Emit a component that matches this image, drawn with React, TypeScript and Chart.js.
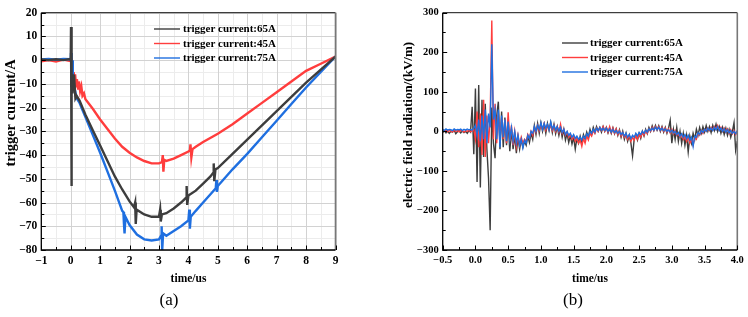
import { useEffect, useRef } from 'react';
import { Chart, registerables } from 'chart.js';

Chart.register(...registerables);

const SERIF = "'Liberation Serif', 'Times New Roman', serif";

const LABEL_65 = 'trigger current:65A';
const LABEL_45 = 'trigger current:45A';
const LABEL_75 = 'trigger current:75A';

const COLOR_65 = '#3d3d3d';
const COLOR_45 = '#ff3d3d';
const COLOR_75 = '#1f6fe0';

// (a) trigger current, [time µs, current A]
const current65A: [number, number][] = [
  [-1, 0.3], [-0.75, 0], [-0.5, 0.4], [-0.25, 0], [-0.02, 0.5], [0, 0], [0.01, 14], [0.02, -53],
  [0.03, 2], [0.04, -8], [0.06, -14], [0.08, -6], [0.1, -12], [0.13, -10], [0.16, -16], [0.2, -15],
  [0.3, -17], [0.4, -20], [0.5, -23], [0.75, -29.5], [1, -36], [1.25, -42.5], [1.5, -49], [1.75, -54.5],
  [2, -59.5], [2.15, -62], [2.19, -60], [2.21, -69], [2.24, -63], [2.5, -65], [2.75, -66], [3, -66],
  [3.04, -63], [3.06, -68], [3.1, -65], [3.25, -64.5], [3.5, -62.5], [3.75, -60], [3.92, -58], [3.94, -53],
  [3.96, -61], [4, -57], [4.25, -55], [4.5, -52], [4.75, -49], [4.84, -47.5], [4.86, -43.5], [4.88, -51],
  [4.92, -46], [5, -45.5], [5.5, -39.5], [6, -33.5], [6.5, -27.5], [7, -21.5], [7.5, -15.5], [8, -9.5],
  [8.5, -4], [9, 1.5],
];

const current45A: [number, number][] = [
  [-1, -0.5], [-0.75, 0], [-0.5, -0.6], [-0.25, 0.2], [-0.02, -0.3], [0.02, 0], [0.04, -4], [0.06, -2],
  [0.08, -7], [0.1, -5], [0.13, -10], [0.15, -6], [0.18, -11], [0.21, -8], [0.25, -12], [0.28, -9],
  [0.32, -13], [0.36, -11], [0.4, -15], [0.45, -14], [0.5, -16.5], [0.75, -20.5], [1, -25], [1.25, -29],
  [1.5, -33], [1.75, -36.5], [2, -39], [2.25, -41], [2.5, -42.5], [2.75, -43.5], [3, -43.5], [3.1, -43],
  [3.13, -40], [3.15, -47], [3.18, -42], [3.25, -42.5], [3.5, -41.5], [3.75, -40], [4, -38.5], [4.05, -38],
  [4.07, -35.5], [4.1, -41], [4.14, -37.5], [4.25, -36.5], [4.5, -34.5], [5, -31], [5.5, -27], [6, -22.5],
  [6.5, -18], [7, -13.5], [7.5, -9], [8, -4.5], [8.5, -1.5], [9, 1.5],
];

const current75A: [number, number][] = [
  [-1, 0.3], [-0.75, 0.5], [-0.5, 0.2], [-0.25, 0.5], [-0.02, 0.4], [0, 0], [0.01, 3], [0.03, -8],
  [0.05, 0], [0.07, -10], [0.1, -12], [0.15, -13], [0.2, -16], [0.3, -18], [0.4, -21], [0.5, -24],
  [0.75, -31.5], [1, -39], [1.25, -47], [1.5, -55], [1.75, -63.5], [1.79, -64], [1.81, -69], [1.83, -73],
  [1.86, -66], [2, -69.5], [2.25, -73.5], [2.5, -75.5], [2.75, -76], [3, -75.5], [3.07, -74], [3.09, -70],
  [3.11, -80], [3.14, -73], [3.25, -74], [3.5, -72], [3.75, -70], [4, -67.5], [4.03, -63], [4.05, -71],
  [4.08, -66], [4.25, -63.5], [4.5, -60], [4.75, -56.5], [4.93, -54], [4.95, -50.5], [4.97, -55.5], [5, -53],
  [5.5, -46], [6, -39.5], [6.5, -32.5], [7, -25.5], [7.5, -18.5], [8, -11.5], [8.5, -5], [9, 1.5],
];

// (b) electric field radiation (kV/m), sampled every 0.025 µs from -0.5 µs
const FIELD_T0 = -0.5;
const FIELD_DT = 0.025;

const field65A = [
  -3, 2, -4, 1, -5, 0, -2, 3, -6, -1,
  2, -4, 1, -3, 0, -5, 2, -2, 62, -58,
  108, -128, 117, -142, 80, -65, 70, -45, -118, -250,
  60, -30, -68, 40, 75, -45, 50, -40, 35, -35,
  20, -50, 5, -45, -10, -55, -15, -45, -20, -40,
  -25, -35, -12, -28, -5, -20, 15, -8, 20, -5,
  22, 0, 18, -5, 20, 2, 22, -3, 18, -6,
  12, -10, 10, -15, 5, -22, -5, -28, -10, -32,
  -15, -45, -18, -30, -12, -28, -8, -20, -2, -15,
  5, -8, 10, -3, 12, 0, 10, -2, 12, 0,
  10, -4, 8, -5, 9, -6, 6, -10, 4, -15,
  0, -20, -5, -25, -10, -30, -62, -20, -8, -22,
  -5, -18, 0, -12, 5, -6, 10, 0, 14, 2,
  15, 3, 14, 0, 12, -2, 10, -5, 8, 28,
  -30, 5, -20, 10, -25, 0, -30, -5, -35, -10,
  -52, -12, -30, -5, -20, 5, -10, 10, -5, 12,
  -2, 15, 0, 12, -3, 15, 2, 18, 0, 12,
  -5, 10, -8, 8, -10, 5, -15, 0, 22, -48,
  -25,
];

const field45A = [
  2, 0, 3, -1, 2, 1, -2, 3, 0, 2,
  -1, 3, 1, -2, 2, 0, 3, -1, 2, 5,
  -20, 50, -40, 45, -60, 80, -65, 40, -30, 35,
  280, -20, 70, -30, 45, -25, 35, -20, 30, -30,
  48, -25, 15, -35, 0, -38, -10, -35, -15, -30,
  -20, -25, -8, -18, 0, -10, 10, -2, 15, 2,
  18, 5, 20, 3, 16, 5, 18, 2, 15, 0,
  12, -2, 18, -5, 5, -10, -2, -15, -8, -20,
  -12, -25, -18, -30, -22, -38, -18, -30, -12, -22,
  -5, -12, 2, -5, 8, 0, 10, 2, 12, 0,
  10, -2, 12, -3, 8, -5, 6, -8, 2, -12,
  -3, -15, -8, -20, -10, -25, -15, -22, -10, -20,
  -8, -15, -2, -10, 2, -5, 6, 0, 10, 2,
  12, 4, 12, 2, 10, 0, 8, -2, 6, -4,
  5, -6, 2, -10, -5, -15, -8, -20, -12, -25,
  -15, -30, -20, -35, -15, -20, -5, -10, 2, -5,
  5, 0, 8, 2, 10, 3, 12, 5, 15, 3,
  10, 0, 8, -2, 6, -5, 4, -6, 2, -8,
  0,
];

const field75A = [
  5, 2, 6, 3, 5, 4, 2, 6, 3, 5,
  4, 6, 2, 5, 3, 6, 4, 5, 3, 8,
  15, -10, 30, -25, 40, -20, 55, -30, 45, 10,
  220, 30, 55, -20, 55, -40, 40, -15, 30, -25,
  25, -20, 10, -25, 0, -30, -10, -35, -20, -42,
  -22, -30, -10, -18, 0, -5, 12, 0, 15, 5,
  22, 5, 20, 8, 18, 4, 24, 6, 15, 3,
  12, 0, 10, -3, 5, -8, 0, -10, -5, -15,
  -8, -18, -12, -20, -15, -22, -12, -18, -6, -12,
  0, -5, 5, -2, 8, 2, 10, 3, 8, 2,
  8, 0, 6, -2, 5, -3, 2, -5, 0, -8,
  -3, -12, -5, -15, -8, -18, -10, -15, -5, -12,
  -3, -8, 0, -5, 3, -2, 6, 2, 8, 3,
  10, 4, 10, 3, 8, 2, 6, 0, 4, -2,
  3, -4, 0, -8, -3, -12, -6, -15, -8, -18,
  -10, -22, -15, -38, -12, -15, -3, -8, 2, -3,
  5, 0, 8, 3, 8, 2, 10, 4, 12, 2,
  8, 0, 6, -2, 4, -4, 2, -5, 0, -6,
  2,
];

const fieldPoints = (vals: number[]): [number, number][] =>
  vals.map((v, i) => [FIELD_T0 + FIELD_DT * i, v]);

type Series = { label: string; color: string; points: [number, number][]; order: number };

type PanelSpec = {
  left: number;
  width: number;
  height: number;
  area: { left: number; right: number; top: number; bottom: number };
  x: { min: number; max: number; step: number; minor: number; decimals: number };
  y: { min: number; max: number; step: number; minor: number };
  grid: boolean;
  lineWidth: number;
  tickSize: number;
  series: Series[];
  yTitle: string;
  yTitleAt: [number, number];
  yTitleSize: number;
  xTitle: string;
  xTitleAt: [number, number];
  caption: string;
  captionAt: [number, number];
  legend: { x0: number; x1: number; textX: number; rows: number[] };
};

const panelA: PanelSpec = {
  left: 0,
  width: 378,
  height: 317,
  area: { left: 41.3, right: 335.5, top: 12.7, bottom: 250 },
  x: { min: -1, max: 9, step: 1, minor: 0.5, decimals: 0 },
  y: { min: -80, max: 20, step: 10, minor: 5 },
  grid: true,
  lineWidth: 2.4,
  tickSize: 11.5,
  series: [
    { label: LABEL_65, color: COLOR_65, points: current65A, order: 0 },
    { label: LABEL_45, color: COLOR_45, points: current45A, order: 2 },
    { label: LABEL_75, color: COLOR_75, points: current75A, order: 1 },
  ],
  yTitle: 'trigger current/A',
  yTitleAt: [11, 113],
  yTitleSize: 14.5,
  xTitle: 'time/us',
  xTitleAt: [188.5, 279],
  caption: '(a)',
  captionAt: [169, 301],
  legend: { x0: 154, x1: 180, textX: 183, rows: [29, 43.5, 58] },
};

const panelB: PanelSpec = {
  left: 378,
  width: 370,
  height: 317,
  area: { left: 64.7, right: 359.3, top: 12.7, bottom: 250 },
  x: { min: -0.5, max: 4, step: 0.5, minor: 0.25, decimals: 1 },
  y: { min: -300, max: 300, step: 100, minor: 50 },
  grid: false,
  lineWidth: 1.4,
  tickSize: 10.5,
  series: [
    { label: LABEL_65, color: COLOR_65, points: fieldPoints(field65A), order: 2 },
    { label: LABEL_45, color: COLOR_45, points: fieldPoints(field45A), order: 1 },
    { label: LABEL_75, color: COLOR_75, points: fieldPoints(field75A), order: 0 },
  ],
  yTitle: 'electric field radiation/(kV/m)',
  yTitleAt: [31, 125],
  yTitleSize: 13,
  xTitle: 'time/us',
  xTitleAt: [212, 279],
  caption: '(b)',
  captionAt: [195, 301],
  legend: { x0: 184, x1: 210, textX: 212, rows: [43, 57.5, 72] },
};

const fmt = (v: number, decimals: number) => v.toFixed(decimals).replace('-', '\u2212');

function range(min: number, max: number, step: number): number[] {
  const out: number[] = [];
  const n = Math.round((max - min) / step);
  for (let i = 0; i <= n; i++) out.push(min + i * step);
  return out;
}

const isMultiple = (v: number, step: number) => Math.abs(v / step - Math.round(v / step)) < 1e-6;

function decorPlugin(spec: PanelSpec) {
  return {
    id: 'panelDecor',
    beforeDatasetsDraw(chart: any) {
      if (!spec.grid) return;
      const { ctx, chartArea: a, scales } = chart;
      const xs = scales.x;
      const ys = scales.y;
      ctx.save();
      ctx.lineWidth = 1;
      // minor grid
      ctx.strokeStyle = '#ececec';
      ctx.beginPath();
      for (const v of range(spec.x.min, spec.x.max, spec.x.minor)) {
        if (isMultiple(v, spec.x.step)) continue;
        const px = Math.round(xs.getPixelForValue(v)) + 0.5;
        ctx.moveTo(px, a.top);
        ctx.lineTo(px, a.bottom);
      }
      for (const v of range(spec.y.min, spec.y.max, spec.y.minor)) {
        if (isMultiple(v, spec.y.step)) continue;
        const py = Math.round(ys.getPixelForValue(v)) + 0.5;
        ctx.moveTo(a.left, py);
        ctx.lineTo(a.right, py);
      }
      ctx.stroke();
      // major grid
      ctx.strokeStyle = '#d2d2d2';
      ctx.beginPath();
      for (const v of range(spec.x.min, spec.x.max, spec.x.step)) {
        const px = Math.round(xs.getPixelForValue(v)) + 0.5;
        ctx.moveTo(px, a.top);
        ctx.lineTo(px, a.bottom);
      }
      for (const v of range(spec.y.min, spec.y.max, spec.y.step)) {
        const py = Math.round(ys.getPixelForValue(v)) + 0.5;
        ctx.moveTo(a.left, py);
        ctx.lineTo(a.right, py);
      }
      ctx.stroke();
      ctx.restore();
    },
    afterDatasetsDraw(chart: any) {
      const { ctx, chartArea: a, scales } = chart;
      const xs = scales.x;
      const ys = scales.y;
      ctx.save();

      // frame
      ctx.lineWidth = 1;
      ctx.strokeStyle = '#111';
      ctx.beginPath();
      ctx.moveTo(a.left, a.top);
      ctx.lineTo(a.right, a.top);
      ctx.stroke();
      ctx.strokeStyle = '#777';
      ctx.lineWidth = 1.6;
      ctx.beginPath();
      ctx.moveTo(a.right, a.top);
      ctx.lineTo(a.right, a.bottom);
      ctx.stroke();
      ctx.strokeStyle = '#000';
      ctx.lineWidth = 1.3;
      ctx.beginPath();
      ctx.moveTo(a.left, a.top);
      ctx.lineTo(a.left, a.bottom);
      ctx.lineTo(a.right, a.bottom);
      ctx.stroke();

      // inward tick marks
      ctx.lineWidth = 1;
      ctx.strokeStyle = '#000';
      ctx.beginPath();
      for (const v of range(spec.x.min, spec.x.max, spec.x.minor)) {
        const major = isMultiple(v, spec.x.step);
        const px = Math.round(xs.getPixelForValue(v)) + 0.5;
        ctx.moveTo(px, a.bottom);
        ctx.lineTo(px, a.bottom - (major ? 4.5 : 3));
      }
      for (const v of range(spec.y.min, spec.y.max, spec.y.minor)) {
        const major = isMultiple(v, spec.y.step);
        const py = Math.round(ys.getPixelForValue(v)) + 0.5;
        ctx.moveTo(a.left, py);
        ctx.lineTo(a.left + (major ? 4.5 : 3), py);
      }
      ctx.stroke();

      // legend
      ctx.font = `bold 11px ${SERIF}`;
      ctx.textBaseline = 'middle';
      ctx.textAlign = 'left';
      spec.series.forEach((s, i) => {
        const y = spec.legend.rows[i];
        ctx.strokeStyle = s.color;
        ctx.lineWidth = 1.4;
        ctx.beginPath();
        ctx.moveTo(spec.legend.x0, y);
        ctx.lineTo(spec.legend.x1, y);
        ctx.stroke();
        ctx.fillStyle = '#000';
        ctx.fillText(s.label, spec.legend.textX, y + 0.5);
      });

      // axis titles and caption
      ctx.fillStyle = '#000';
      ctx.textAlign = 'center';
      ctx.font = `bold 11.5px ${SERIF}`;
      ctx.fillText(spec.xTitle, spec.xTitleAt[0], spec.xTitleAt[1]);
      ctx.save();
      ctx.translate(spec.yTitleAt[0], spec.yTitleAt[1]);
      ctx.rotate(-Math.PI / 2);
      ctx.font = `bold ${spec.yTitleSize}px ${SERIF}`;
      ctx.fillText(spec.yTitle, 0, 0);
      ctx.restore();
      ctx.font = `17px ${SERIF}`;
      ctx.fillText(spec.caption, spec.captionAt[0], spec.captionAt[1]);
      ctx.restore();
    },
  };
}

function makeChart(canvas: HTMLCanvasElement, spec: PanelSpec) {
  const tickFont = { family: SERIF, size: spec.tickSize, weight: 'bold' as const };
  return new Chart(canvas, {
    type: 'line',
    data: {
      datasets: spec.series.map((s) => ({
        label: s.label,
        data: s.points.map(([x, y]) => ({ x, y })),
        borderColor: s.color,
        backgroundColor: s.color,
        borderWidth: spec.lineWidth,
        pointRadius: 0,
        tension: 0,
        fill: false,
        order: s.order,
      })),
    },
    options: {
      animation: false,
      responsive: false,
      devicePixelRatio: 1,
      events: [],
      layout: {
        padding: { top: spec.area.top, right: spec.width - spec.area.right, left: 0, bottom: 0 },
      },
      plugins: { legend: { display: false }, tooltip: { enabled: false } },
      scales: {
        x: {
          type: 'linear',
          min: spec.x.min,
          max: spec.x.max,
          grid: { display: false, drawTicks: false },
          border: { display: false },
          ticks: {
            stepSize: spec.x.step,
            autoSkip: false,
            maxRotation: 0,
            padding: 4,
            color: '#000',
            font: tickFont,
            callback: (v: any) => fmt(Number(v), spec.x.decimals),
          },
          afterFit: (s: any) => {
            s.height = spec.height - spec.area.bottom;
          },
        },
        y: {
          type: 'linear',
          min: spec.y.min,
          max: spec.y.max,
          grid: { display: false, drawTicks: false },
          border: { display: false },
          ticks: {
            stepSize: spec.y.step,
            autoSkip: false,
            padding: 4,
            color: '#000',
            font: tickFont,
            callback: (v: any) => fmt(Number(v), 0),
          },
          afterFit: (s: any) => {
            s.width = spec.area.left;
          },
        },
      },
    },
    plugins: [decorPlugin(spec)],
  } as any);
}

function ChartPanel({ spec }: { spec: PanelSpec }) {
  const ref = useRef<HTMLCanvasElement>(null);
  useEffect(() => {
    const chart = makeChart(ref.current as HTMLCanvasElement, spec);
    return () => chart.destroy();
  }, [spec]);
  return (
    <canvas
      ref={ref}
      width={spec.width}
      height={spec.height}
      style={{ position: 'absolute', left: spec.left, top: 0, width: spec.width, height: spec.height }}
    />
  );
}

export default function App() {
  return (
    <div
      style={{
        position: 'absolute',
        left: 0,
        top: 0,
        width: 748,
        height: 317,
        background: '#fff',
        overflow: 'hidden',
      }}
    >
      <ChartPanel spec={panelA} />
      <ChartPanel spec={panelB} />
    </div>
  );
}
